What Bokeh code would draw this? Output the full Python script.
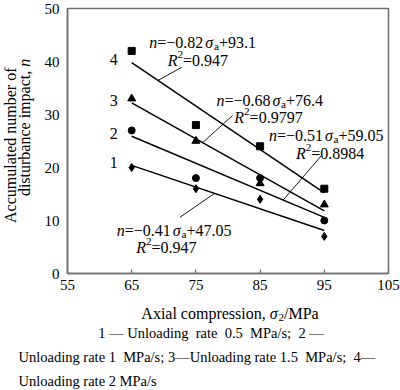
from math import pi
from bokeh.plotting import figure
from bokeh.models import Label, Range1d, FixedTicker
from bokeh.layouts import row, column
from bokeh.embed import file_html
from bokeh.resources import INLINE

# ---- data ----
stress = [65, 75, 85, 95]
n_rate_05 = [20, 16, 14, 7]
n_rate_1 = [27, 18, 18, 10]
n_rate_15 = [33, 25, 17, 13]
n_rate_2 = [42, 28, 24, 16]
series_ids = ["1", "2", "3", "4"]
fit_slopes = [-0.41, -0.51, -0.68, -0.82]
fit_intercepts = [47.05, 59.05, 76.4, 93.1]
fit_r2 = ["0.947", "0.8984", "0.9797", "0.947"]
x_ticks = [55, 65, 75, 85, 95, 105]
y_ticks = [0, 10, 20, 30, 40, 50]
x_title = "Axial compression, "
y_title = ["Accumulated number of", "disturbance impact,\u00a0"]
caption = ["1 \u2014 Unloading\u00a0 rate\u00a0 0.5\u00a0 MPa/s;\u00a0 2 \u2014",
           "Unloading rate 1\u00a0 MPa/s; 3\u2014Unloading rate 1.5\u00a0 MPa/s;\u00a0 4\u2014",
           "Unloading rate 2 MPa/s"]

FONT = "Liberation Serif, Times New Roman, DejaVu Serif, serif"
GREY = "#6e6e6e"


def bare(fig):
    fig.title.visible = False
    fig.grid.visible = False
    fig.outline_line_color = None
    fig.background_fill_color = "white"
    fig.border_fill_color = "white"


# ---- main plot ----
p = figure(width=360, height=298, x_range=Range1d(55, 105), y_range=Range1d(0, 50),
           output_backend="svg", toolbar_location=None,
           min_border_left=27, min_border_right=12, min_border_top=8, min_border_bottom=25)
bare(p)
p.outline_line_color = GREY
p.outline_line_width = 1.5

for ax in (p.xaxis[0], p.yaxis[0]):
    ax.axis_line_color = GREY
    ax.axis_line_width = 1.5
    ax.major_tick_line_color = GREY
    ax.major_tick_line_width = 1.2
    ax.minor_tick_line_color = None
    ax.major_label_text_font = FONT
    ax.major_label_text_font_size = "15px"
    ax.major_label_text_color = "black"
p.xaxis.ticker = FixedTicker(ticks=x_ticks)
p.yaxis.ticker = FixedTicker(ticks=y_ticks)
p.xaxis.major_tick_in = 4
p.xaxis.major_tick_out = 0
p.xaxis.major_label_standoff = 6
p.yaxis.major_tick_in = 0
p.yaxis.major_tick_out = 0
p.yaxis.major_label_standoff = 8

series_vals = [n_rate_05, n_rate_1, n_rate_15, n_rate_2]
markers = ["diamond", "circle", "triangle", "square"]
msizes = [8, 7, 8, 7]
for vals, s, b, m, ms in zip(series_vals, fit_slopes, fit_intercepts, markers, msizes):
    xs = [stress[0], stress[-1]]
    p.line(xs, [s * x + b for x in xs], line_color="black", line_width=1.5)
    p.scatter(stress, vals, marker=m, size=ms, fill_color="black", line_color="black")

for sid, s, b in zip(series_ids, fit_slopes, fit_intercepts):
    p.add_layout(Label(x=62.2, y=s * 65 + b + 0.5, text=sid, text_font=FONT,
                       text_font_size="16px", text_align="center", text_baseline="middle",
                       text_color="black"))

leader_start = [77.9, 88.6, 76.05, 69.1]
leader_end = [(72.5, 10.6), (94.6, 22.3), (80.7, 29.8), (72.8, 38.9)]
for s, b, xs0, (xe, ye) in zip(fit_slopes, fit_intercepts, leader_start, leader_end):
    p.line([xs0, xe], [s * xs0 + b, ye], line_color="black", line_width=0.9)

# ---- rich text helper ----
REG = {' ': 250, '\u00a0': 250, '.': 250, ',': 250, '=': 564, '+': 564, '\u2212': 564,
       '/': 278, ';': 278, '\u2014': 1000, 'A': 722, 'M': 889, 'P': 556, 'R': 667,
       'U': 722, 'a': 444, 'c': 444, 'd': 500, 'e': 444, 'g': 500, 'i': 278, 'l': 278,
       'm': 778, 'n': 500, 'o': 500, 'p': 500, 'r': 333, 's': 389, 't': 278, 'x': 500,
       'u': 500, 'b': 500, 'f': 333}
ITA = {'n': 500, 'R': 611, '\u03c3': 540}


def rich(fig, x, y, pieces, size, align="left"):
    items = []
    for t, kind in pieces:
        if kind == "gap":
            items.append((None, kind, size, t))
            continue
        fs = size * 0.7 if kind in ("sub", "sup") else size
        table = ITA if kind == "i" else REG
        w = sum(table.get(c, 500) for c in t) / 1000 * fs
        items.append((t, kind, fs, w))
    total = sum(it[3] for it in items)
    off = 0 if align == "left" else -total / 2
    for t, kind, fs, w in items:
        if t is not None:
            dy = -0.22 * size if kind == "sub" else (0.4 * size if kind == "sup" else 0)
            fig.add_layout(Label(x=x, y=y, x_offset=off, y_offset=dy, text=t, text_font=FONT,
                                 text_font_style="italic" if kind == "i" else "normal",
                                 text_font_size=f"{fs:.1f}px", text_baseline="alphabetic",
                                 text_align="left", text_color="black"))
        off += w


def fmt(v):
    return f"{v:g}"


eq_pos = [(71.6, 8.1), (95.3, 26.0), (86.5, 32.6), (76.05, 43.6)]
r2_pos = [(70.4, 4.9), (95.9, 22.6), (86.3, 29.4), (75.3, 40.2)]
for s, b, r2, (ex, ey), (rx, ry) in zip(fit_slopes, fit_intercepts, fit_r2, eq_pos, r2_pos):
    rich(p, ex, ey, [("n", "i"), ("=\u2212" + fmt(-s), "r"), (2, "gap"), ("\u03c3", "i"),
                     ("a", "sub"), ("+" + fmt(b), "r")], 16, align="center")
    rich(p, rx, ry, [("R", "i"), ("2", "sup"), ("=" + r2, "r")], 16, align="center")

# ---- y-axis title panel ----
yt = figure(width=40, height=298, x_range=Range1d(0, 40), y_range=p.y_range,
            output_backend="svg", toolbar_location=None, x_axis_type=None, y_axis_type=None,
            min_border_left=0, min_border_right=0, min_border_top=8, min_border_bottom=25)
bare(yt)
yt.add_layout(Label(x=10, y=24.2, text=y_title[0], text_font=FONT,
                    text_font_size="16px", angle=pi / 2, text_align="center",
                    text_baseline="middle", text_color="black"))
yt.add_layout(Label(x=24, y=39.0, text=y_title[1], text_font=FONT,
                    text_font_size="16px", angle=pi / 2, text_align="right",
                    text_baseline="middle", text_color="black"))
yt.add_layout(Label(x=24, y=39.0, text="n", text_font=FONT, text_font_style="italic",
                    text_font_size="16px", angle=pi / 2, text_align="left",
                    text_baseline="middle", text_color="black"))

# ---- caption panel (x title + figure caption) ----
cap = figure(width=400, height=92, x_range=Range1d(0, 400), y_range=Range1d(0, 92),
             output_backend="svg", toolbar_location=None, x_axis_type=None, y_axis_type=None,
             min_border_left=0, min_border_right=0, min_border_top=0, min_border_bottom=0)
bare(cap)
rich(cap, 229.5, 77, [(x_title, "r"), ("\u03c3", "i"), ("2", "sub"), ("/MPa", "r")],
     16, align="center")
cap.add_layout(Label(x=210.5, y=58, text=caption[0], text_font=FONT, text_font_size="14.5px",
                     text_align="center", text_baseline="alphabetic", text_color="black"))
cap.add_layout(Label(x=18, y=34, text=caption[1], text_font=FONT, text_font_size="14.5px",
                     text_align="left", text_baseline="alphabetic", text_color="black"))
cap.add_layout(Label(x=18, y=10, text=caption[2], text_font=FONT, text_font_size="14.5px",
                     text_align="left", text_baseline="alphabetic", text_color="black"))

layout = column(row(yt, p, spacing=0), cap, spacing=0)
open("out.html", "w").write(file_html(layout, INLINE))
